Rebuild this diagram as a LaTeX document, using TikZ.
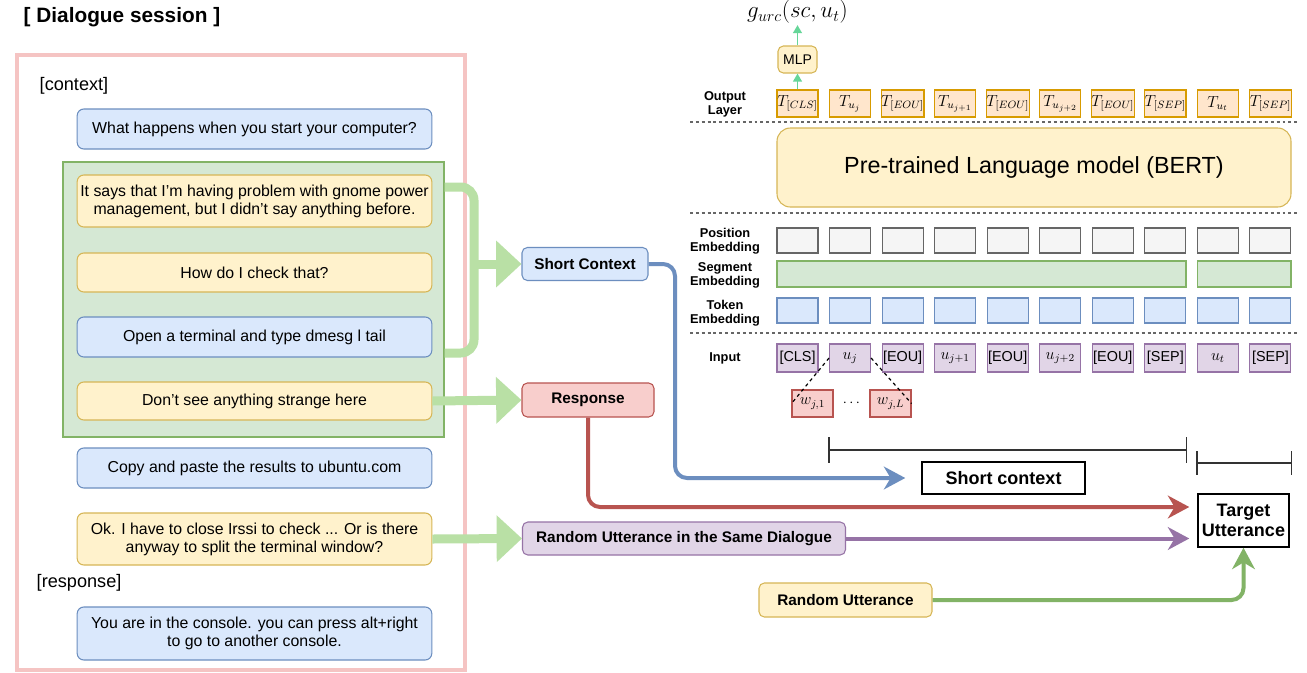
\documentclass[tikz,border=0pt]{standalone}
\usepackage{fontspec}
\setmainfont{Liberation Sans}
\usetikzlibrary{arrows.meta,calc}
\definecolor{ylt}{HTML}{FFF2CC}\definecolor{ydk}{HTML}{D6B656}
\definecolor{blt}{HTML}{DAE8FC}\definecolor{bdk}{HTML}{6C8EBF}
\definecolor{glt}{HTML}{D5E8D4}\definecolor{gdk}{HTML}{82B366}
\definecolor{rlt}{HTML}{F8CECC}\definecolor{rdk}{HTML}{B85450}
\definecolor{plt}{HTML}{E1D5E7}\definecolor{pdk}{HTML}{9673A6}
\definecolor{olt}{HTML}{FFE6CC}\definecolor{odk}{HTML}{D79B00}
\definecolor{alt}{HTML}{F5F5F5}\definecolor{adk}{HTML}{666666}
\definecolor{thkgreen}{HTML}{B9E0A5}
\definecolor{pinkline}{HTML}{F5C4C3}
\definecolor{mint}{HTML}{66D699}
\begin{document}
\begin{tikzpicture}[x=0.75pt,y=-0.75pt,
  dlg/.style={rounded corners=5pt, minimum width=266pt, inner sep=0pt, align=center,
    font=\fontsize{11.9}{13.5}\selectfont, line width=0.8pt},
  yel/.style={draw=ydk, fill=ylt},
  blu/.style={draw=bdk, fill=blt},
  lbl/.style={font=\bfseries\fontsize{9.6}{10.5}\selectfont, align=center},
  col/.style={minimum width=30.75pt, inner sep=0pt, line width=0.8pt},
  tbox/.style={col, draw=odk, fill=olt, minimum height=20.25pt, font=\fontsize{12}{14}\selectfont},
  pbox/.style={col, draw=adk, fill=alt, minimum height=18.75pt},
  kbox/.style={col, draw=bdk, fill=blt, minimum height=18.75pt},
  ibox/.style={col, draw=pdk, fill=plt, minimum height=21pt, font=\fontsize{10.8}{13}\selectfont},
  wbox/.style={col, draw=rdk, fill=rlt, minimum height=20.25pt, font=\fontsize{12}{14}\selectfont},
  sep/.style={draw=adk, line width=1.5pt, dash pattern=on 2.2pt off 2.2pt},
  midbox/.style={rounded corners=4pt, inner sep=0pt, line width=0.8pt, font=\bfseries\fontsize{11.5}{13}\selectfont},
  thk/.style={draw=thkgreen, line width=6.75pt},
  bigtri/.style={-{Triangle[length=19pt,width=34pt]}},
  carrow/.style={line width=3pt, rounded corners=9pt, -{Stealth[length=16pt,width=17pt,inset=5pt]}},
  dim/.style={draw=black!80, line width=1.2pt}
]
\useasboundingbox[fill=white] (0,0) rectangle (1307,672);

% ---------------- left: dialogue session ----------------
\node[anchor=west, font=\bfseries\fontsize{15.6}{18}\selectfont] (title) at (19,17) {[ Dialogue session ]};
\draw[draw=pinkline, line width=2.6pt] (17,55) rectangle (465,670);
\node[anchor=west, font=\fontsize{13.6}{16}\selectfont] (ctx) at (35,86) {[context]};
\node[anchor=west, font=\fontsize{13.6}{16}\selectfont] (rsp) at (32,583) {[response]};

\node[draw=gdk, fill=glt, line width=0.8pt, minimum width=285.75pt, minimum height=206.25pt, inner sep=0pt] (gc) at (253.5,299.5) {};

\node[dlg, blu, minimum height=30pt] (q1) at (254.5,129) {What happens when you start your computer?};
\node[dlg, yel, minimum height=39pt] (u1) at (254.5,201) {It says that I’m having problem with gnome power\\management, but I didn’t say anything before.};
\node[dlg, yel, minimum height=29.25pt] (u2) at (254.5,272.5) {How do I check that?};
\node[dlg, blu, minimum height=30pt] (u3) at (254.5,337) {Open a terminal and type dmesg l tail};
\node[dlg, yel, minimum height=28.5pt] (u4) at (254.5,401) {Don’t see anything strange here};
\node[dlg, blu, minimum height=30pt] (u5) at (254.5,468) {Copy and paste the results to ubuntu.com};
\node[dlg, yel, minimum height=39pt] (u6) at (254.5,539) {Ok. I have to close Irssi to check ... Or is there\\anyway to split the terminal window?};
\node[dlg, blu, minimum height=39.75pt] (r1) at (254.5,633.5) {You are in the console. you can press alt+right\\to go to another console.};

% ---------------- middle boxes ----------------
\node[midbox, draw=bdk, fill=blt, minimum width=94.5pt, minimum height=24.75pt] (sc) at (585,264) {Short Context};
\node[midbox, draw=rdk, fill=rlt, minimum width=99pt, minimum height=25.5pt] (resp) at (588,400) {Response};
\node[midbox, draw=pdk, fill=plt, minimum width=242.25pt, minimum height=24.75pt] (rsd) at (684,538.5) {Random Utterance in the Same Dialogue};
\node[midbox, draw=ydk, fill=ylt, minimum width=129.75pt, minimum height=25.5pt] (ru) at (845.5,600) {Random Utterance};
\node[draw=black, line width=1.1pt, inner sep=0pt, minimum width=122.25pt, minimum height=24pt, font=\bfseries\fontsize{13.5}{15}\selectfont] (sctx) at (1003.5,478) {Short context};
\node[draw=black, line width=1.1pt, inner sep=0pt, minimum width=68.25pt, minimum height=39.75pt, align=center, font=\bfseries\fontsize{13.5}{15.5}\selectfont] (tgt) at (1243.5,520.5) {Target\\Utterance};

% thick green connectors
\coordinate (jn) at (474,264);
\draw[thk, rounded corners=10pt] (gc.east |- 0,187) -| (jn) |- (gc.east |- 0,353);
\draw[thk, bigtri] (jn) -- (sc.west);
\draw[thk, bigtri] (u4.east) -- (resp.west);
\draw[thk, bigtri] (u6.east) -- (rsd.west);

% coloured connectors
\coordinate (bc) at (675,478);
\draw[carrow, draw=bdk, shorten >=12pt] (sc.east) -| (bc) -- (sctx.west);
\draw[carrow, draw=rdk, shorten >=6pt] (resp.south) |- (tgt.west |- 0,507);
\draw[carrow, draw=pdk, shorten >=6pt] (rsd.east) -- (tgt.west |- rsd.east);
\draw[carrow, draw=gdk] (ru.east) -| (tgt.south);

% ---------------- right: BERT model ----------------
\foreach \i/\t/\s in {0/{$T_{[CLS]}$}/{[CLS]},1/{$T_{u_j}$}/{\fontsize{12}{14}\selectfont$u_j$},2/{$T_{[EOU]}$}/{[EOU]},
  3/{$T_{u_{j+1}}$}/{\fontsize{12}{14}\selectfont$u_{j+1}$},4/{$T_{[EOU]}$}/{[EOU]},5/{$T_{u_{j+2}}$}/{\fontsize{12}{14}\selectfont$u_{j+2}$},
  6/{$T_{[EOU]}$}/{[EOU]},7/{$T_{[SEP]}$}/{[SEP]},8/{$T_{u_t}$}/{\fontsize{12}{14}\selectfont$u_t$},9/{$T_{[SEP]}$}/{[SEP]}}{
  \pgfmathsetmacro{\xx}{797.5+52.55*\i}
  \node[tbox] (T\i) at (\xx,103.5) {\t};
  \node[pbox] (P\i) at (\xx,240.5) {};
  \node[kbox] (K\i) at (\xx,310.5) {};
  \node[ibox] (I\i) at (\xx,358) {\s};
}
\node[lbl] (lout) at (725,104) {Output\\Layer};
\node[lbl] (lpos) at (725,241) {Position\\Embedding};
\node[lbl] (lseg) at (725,275) {Segment\\Embedding};
\node[lbl] (ltok) at (725,313) {Token\\Embedding};
\node[lbl] (lin) at (725,358) {Input};

\node[col, draw=gdk, fill=glt, minimum width=306.75pt, minimum height=19.5pt] (S1) at (981.5,274) {};
\node[col, draw=gdk, fill=glt, minimum width=70.1pt, minimum height=19.5pt] (S2) at (1244.25,274) {};

\node[draw=ydk, fill=ylt, line width=0.8pt, rounded corners=10pt, minimum width=385.5pt, minimum height=59.25pt, inner sep=0pt, font=\fontsize{17.5}{20}\selectfont] (bert) at (1034,167.5) {Pre-trained Language model (BERT)};

\draw[sep] (690,122) -- (1300,122);
\draw[sep] (690,213) -- (1300,213);
\draw[sep] (690,333) -- (1300,333);

\node[draw=ydk, fill=ylt, line width=0.8pt, rounded corners=4pt, minimum width=29.25pt, minimum height=20.25pt, inner sep=0pt, font=\fontsize{10.5}{12}\selectfont] (mlp) at (797.5,59.5) {MLP};
\node[font=\fontsize{17}{20}\selectfont, inner sep=1pt] (gout) at (797.5,12) {$g_{urc}(sc,u_t)$};
\draw[mint, line width=1.4pt, -{Triangle[length=6pt,width=6.5pt]}] (T0.north) -- (mlp.south);
\draw[mint, line width=1.4pt, -{Triangle[length=6pt,width=6.5pt]}] (mlp.north) -- (gout.south);

% word pieces
\node[wbox] (w1) at (812.5,403.5) {$w_{j,1}$};
\node[wbox] (wL) at (890.5,403.5) {$w_{j,L}$};
\node[font=\fontsize{11}{13}\selectfont] (dots) at (851.5,403.5) {$\cdots$};
\draw[line width=0.9pt, dash pattern=on 2.5pt off 2.5pt] (I1.west) -- (w1.west);
\draw[line width=0.9pt, dash pattern=on 2.5pt off 2.5pt] (I1.east) -- (wL.east);

% span markers
\coordinate (d1a) at (I1.west |- 0,450);
\coordinate (d1b) at (I7.east |- 0,450);
\draw[dim] (d1a) -- (d1b);
\draw[dim] ($(d1a)+(0,-13)$) -- ($(d1a)+(0,13)$);
\draw[dim] ($(d1b)+(0,-13)$) -- ($(d1b)+(0,13)$);
\coordinate (d2a) at (I8.west |- 0,463);
\coordinate (d2b) at (I9.east |- 0,463);
\draw[dim] (d2a) -- (d2b);
\draw[dim] ($(d2a)+(0,-12)$) -- ($(d2a)+(0,12)$);
\draw[dim] ($(d2b)+(0,-12)$) -- ($(d2b)+(0,12)$);
\end{tikzpicture}
\end{document}
